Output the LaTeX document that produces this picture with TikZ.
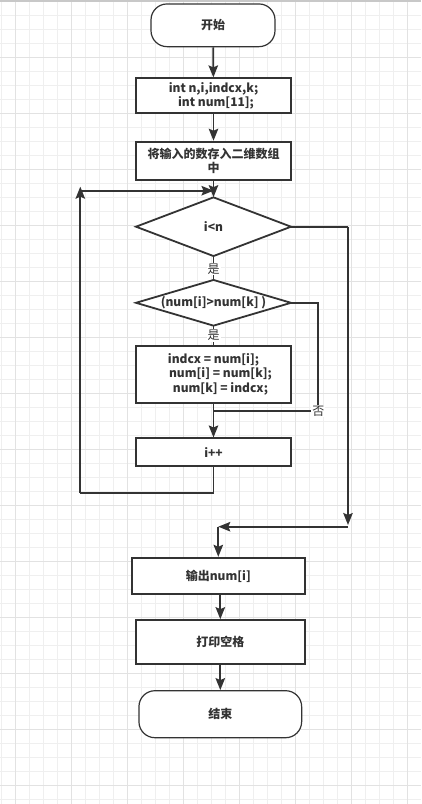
\documentclass[tikz,border=0pt]{standalone}
\usepackage{fontspec}
\setmainfont{Noto Sans CJK SC}
\usetikzlibrary{arrows.meta}
\definecolor{ink}{HTML}{333333}
\definecolor{gridminor}{HTML}{EFEFEF}
\definecolor{gridmajor}{HTML}{E2E2E2}
\definecolor{topbar}{HTML}{C8C8C8}
\tikzset{
  every node/.style={font=\fontsize{12}{14.4}\selectfont\bfseries, text=ink},
  procbox/.style={draw=ink, line width=1.8pt, fill=white, rectangle, inner sep=0pt, align=center},
  termbox/.style={draw=ink, line width=1.2pt, fill=white, rectangle, rounded corners=16pt, inner sep=0pt, align=center},
  decbox/.style={rectangle, inner sep=0pt, align=center},
  decline/.style={draw=ink, line width=1.8pt, fill=white, line join=miter},
  conn/.style={draw=ink, line width=1.8pt},
  arr/.style={conn, -{Stealth[length=12pt,width=9.5pt,inset=2pt]}},
  lbl/.style={fill=white, inner sep=1pt, font=\fontsize{12}{14.4}\selectfont\mdseries},
}
\begin{document}
\begin{tikzpicture}[x=1pt,y=-1pt]
\useasboundingbox (0,0) rectangle (421,804);
\fill[white] (0,0) rectangle (421,804);
% grid
\foreach \k in {0,...,29} \draw[gridminor, line width=0.8pt] ({1.7+14*\k},0) -- ({1.7+14*\k},804);
\foreach \k in {0,...,57} \draw[gridminor, line width=0.8pt] (0,{1.7+14*\k}) -- (421,{1.7+14*\k});
\foreach \k in {0,...,7} \draw[gridmajor, line width=0.8pt] ({15.7+56*\k},0) -- ({15.7+56*\k},804);
\foreach \k in {0,...,14} \draw[gridmajor, line width=0.8pt] (0,{1.7+56*\k}) -- (421,{1.7+56*\k});
\fill[topbar] (0,0) rectangle (421,2);

% decision outlines (drawn first, text nodes on top)
\coordinate (c1) at (213.5,226.7);
\coordinate (c2) at (213.5,302.8);
\draw[decline] (c1) ++(-77.5,0) -- ++(77.5,-29.35) -- ++(77.5,29.35) -- ++(-77.5,29.35) -- cycle;
\draw[decline] (c2) ++(-77.5,0) -- ++(77.5,-22.85) -- ++(77.5,22.85) -- ++(-77.5,22.85) -- cycle;

% nodes
\node[termbox, minimum width=124pt, minimum height=42.7pt] (start) at (213,25.3) {开始};
\node[procbox, minimum width=155pt, minimum height=35pt] (decl) at (213.5,95.8) {int n,i,indcx,k;\\\hspace*{5pt}int num[11];};
\node[procbox, minimum width=155pt, minimum height=38.3pt] (input) at (213.5,160.8) {将输入的数存入二维数组\\中};
\node[decbox, minimum width=155pt, minimum height=58.7pt] (cond1) at (c1) {i<n};
\node[decbox, minimum width=155pt, minimum height=45.7pt] (cond2) at (c2) {(num[i]>num[k] )};
\node[procbox, minimum width=155pt, minimum height=57pt] (swap) at (213.5,374.2) {indcx = num[i];\\\hspace*{14pt}num[i] = num[k];\\\hspace*{14pt}num[k] = indcx;};
\node[procbox, minimum width=155pt, minimum height=27.7pt] (inc) at (213.5,452.2) {i++};
\node[procbox, minimum width=173.3pt, minimum height=36.6pt] (out) at (218.3,576) {输出num[i]};
\node[procbox, minimum width=169.3pt, minimum height=44.3pt] (space) at (220.3,642.2) {打印空格};
\node[termbox, minimum width=162.7pt, minimum height=47pt] (stop) at (220.3,714.2) {结束};

% helper coordinates
\coordinate (loopB) at (80.3,492.7);
\coordinate (loopT) at (80.3,186.7);
\coordinate (loopC) at (80.3,190.7);
\coordinate (join1) at (213.5,190.7);
\coordinate (exitR) at (348,226.7);
\coordinate (exitD) at (348,525);
\coordinate (exitC) at (348,526.7);
\coordinate (join2) at (218.3,526.7);
\coordinate (noR) at (318.3,302.8);
\coordinate (noC) at (318.3,411);
\coordinate (noJ) at (213.5,411);

% connectors
\draw[arr] (start) -- (decl);
\draw[arr] (decl) -- (input);
\draw[arr] (input) -- (cond1.north);
\draw[conn] (cond1.south) -- node[lbl, pos=0.55] {是} (cond2.north);
\draw[conn] (cond2.south) -- node[lbl, pos=0.5] {是} (swap);
\draw[arr] (swap) -- (inc);
\draw[conn] (cond2.east) -- (noR) -- (noC) -- (noJ);
\node[lbl] (nolbl) at (noC) {否};
\draw[conn] (inc.south) -- (inc.south |- loopB) -- (loopB);
\draw[arr] (loopB) -- (loopT);
\draw[arr] (loopC) -- (join1);
\draw[conn] (cond1.east) -- (exitR);
\draw[arr] (exitR) -- (exitD);
\draw[arr] (exitC) -- (join2);
\draw[arr] (join2) -- (out);
\draw[arr] (space.north |- out.south) -- (space.north);
\draw[arr] (space) -- (stop);
\end{tikzpicture}
\end{document}
